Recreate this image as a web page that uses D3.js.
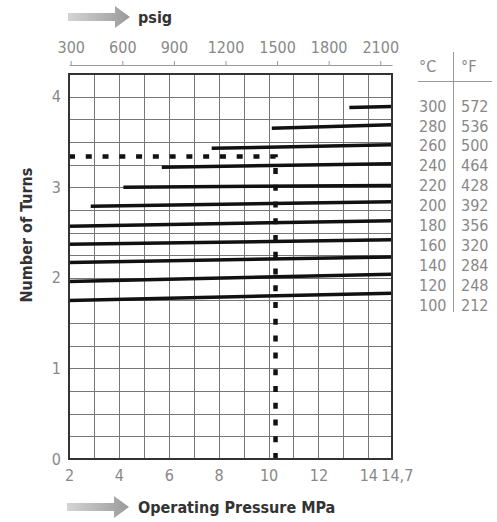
<!DOCTYPE html>
<html>
<head>
<meta charset="utf-8">
<script src="https://cdn.jsdelivr.net/npm/d3@7"></script>
<style>
    body { margin: 0; background: #fff; }
    svg { display: block; }
    .tick-label { font-family: "Liberation Sans Narrow", "DejaVu Sans", sans-serif; font-stretch: condensed; font-size: 16px; fill: #888; }
    .title { font-family: "Liberation Sans Narrow", "DejaVu Sans", sans-serif; font-stretch: condensed; font-size: 16px; font-weight: bold; fill: #333; }
</style>
</head>
<body>
<div id="chart"></div>
<script>
(function () {
    "use strict";

    // temperature curves, bottom to top
    const tempC = [100, 120, 140, 160, 180, 200, 220, 240, 260, 280, 300];
    const tempF = [212, 248, 284, 320, 356, 392, 428, 464, 500, 536, 572];
    const startMPa = [2, 2, 2, 2, 2, 2.87, 4.18, 5.72, 7.72, 10.13, 13.24];
    const startTurns = [1.75, 1.96, 2.17, 2.37, 2.57, 2.79, 3.00, 3.22, 3.43, 3.65, 3.88];
    const endTurns = [1.83, 2.04, 2.23, 2.42, 2.63, 2.84, 3.02, 3.26, 3.47, 3.69, 3.89];

    // tick labels
    const mpaTicks = [2, 4, 6, 8, 10, 12, 14];
    const mpaEnd = 14.7;
    const psigTicks = [300, 600, 900, 1200, 1500, 1800, 2100];
    const turnTicks = [0, 1, 2, 3, 4];

    // reading example (dashed)
    const exampleMPa = 10.28;
    const exampleTurns = 3.34;

    const PSIG_PER_MPA = 145.038;
    const width = 497;
    const height = 522;

    const xScale = d3.scaleLinear().domain([2, 14.95]).range([69, 392]);
    const yScale = d3.scaleLinear().domain([0, 4.25]).range([459, 74]);
    const psigScale = d3.scaleLinear()
        .domain(xScale.domain().map(d => d * PSIG_PER_MPA))
        .range(xScale.range());

    const svg = d3.select("#chart").append("svg")
        .attr("width", width)
        .attr("height", height);

    const defs = svg.append("defs");
    const grad = defs.append("linearGradient").attr("id", "arrow-grad");
    grad.append("stop").attr("offset", "0%").attr("stop-color", "#d4d4d4");
    grad.append("stop").attr("offset", "100%").attr("stop-color", "#9a9a9a");

    const [x0, x1] = xScale.range();
    const [yBottom, yTop] = yScale.range();

    // grid
    const grid = svg.append("g").attr("class", "grid")
        .attr("stroke", "#777")
        .attr("stroke-width", 1);

    grid.selectAll("line.v")
        .data(d3.range(3, 15))
        .join("line")
        .attr("class", "v")
        .attr("x1", d => Math.round(xScale(d)) + 0.5)
        .attr("x2", d => Math.round(xScale(d)) + 0.5)
        .attr("y1", yTop)
        .attr("y2", yBottom);

    grid.selectAll("line.h")
        .data(d3.range(0.25, 4.25, 0.25))
        .join("line")
        .attr("class", "h")
        .attr("x1", x0)
        .attr("x2", x1)
        .attr("y1", d => Math.round(yScale(d)) + 0.5)
        .attr("y2", d => Math.round(yScale(d)) + 0.5);

    // curves
    const curves = tempC.map((c, i) => ({
        c,
        f: tempF[i],
        points: [[startMPa[i], startTurns[i]], [xScale.domain()[1], endTurns[i]]]
    }));

    const line = d3.line()
        .x(d => xScale(d[0]))
        .y(d => yScale(d[1]));

    svg.append("g").attr("class", "curves")
        .selectAll("path")
        .data(curves)
        .join("path")
        .attr("d", d => line(d.points))
        .attr("fill", "none")
        .attr("stroke", "#111")
        .attr("stroke-width", 3.5);

    // dashed reading example, dashes fitted so the last one lands on the axis
    const dashed = svg.append("path")
        .attr("d", line([[2, exampleTurns], [exampleMPa, exampleTurns], [exampleMPa, 0]]))
        .attr("fill", "none")
        .attr("stroke", "#111")
        .attr("stroke-width", 4.5);
    const dashLen = 6;
    const total = dashed.node().getTotalLength();
    const count = Math.round((total - dashLen) / 17);
    dashed.attr("stroke-dasharray", `${dashLen} ${(total - dashLen) / count - dashLen}`);

    // border
    svg.append("rect")
        .attr("x", x0)
        .attr("y", yTop)
        .attr("width", x1 - x0)
        .attr("height", yBottom - yTop)
        .attr("fill", "none")
        .attr("stroke", "#333")
        .attr("stroke-width", 2);

    // axes
    const bottomAxis = svg.append("g")
        .attr("transform", `translate(0,${yBottom})`)
        .call(d3.axisBottom(xScale)
            .tickValues(mpaTicks.concat([mpaEnd]))
            .tickFormat(d => d === mpaEnd ? "14,7" : d)
            .tickSize(0)
            .tickPadding(11));
    bottomAxis.select(".domain").remove();
    bottomAxis.selectAll("text")
        .attr("class", "tick-label")
        .attr("dx", d => d === mpaEnd ? 11 : 0);

    const leftAxis = svg.append("g")
        .attr("transform", `translate(${x0},0)`)
        .call(d3.axisLeft(yScale)
            .tickValues(turnTicks)
            .tickFormat(d3.format("d"))
            .tickSize(0)
            .tickPadding(8));
    leftAxis.select(".domain").remove();
    leftAxis.selectAll("text").attr("class", "tick-label");

    const topAxis = svg.append("g")
        .attr("transform", "translate(0,65)")
        .call(d3.axisTop(psigScale)
            .tickValues(psigTicks)
            .tickFormat(d3.format("d"))
            .tickSizeInner(4)
            .tickSizeOuter(0)
            .tickPadding(8));
    topAxis.select(".domain").attr("stroke", "#999");
    topAxis.selectAll(".tick line").attr("stroke", "#999");
    topAxis.selectAll("text").attr("class", "tick-label");

    // titles with arrows
    function arrow(x, y) {
        svg.append("path")
            .attr("d", `M${x},${y - 4}H${x + 47}V${y - 11}L${x + 62},${y}L${x + 47},${y + 11}V${y + 4}H${x}Z`)
            .attr("fill", "url(#arrow-grad)");
    }

    arrow(68, 17);
    svg.append("text")
        .attr("class", "title")
        .attr("x", 138)
        .attr("y", 23)
        .text("psig");

    arrow(67, 507);
    svg.append("text")
        .attr("class", "title")
        .attr("x", 138)
        .attr("y", 513)
        .text("Operating Pressure MPa");

    svg.append("text")
        .attr("class", "title")
        .attr("transform", "translate(32,235) rotate(-90)")
        .attr("text-anchor", "middle")
        .text("Number of Turns");

    // temperature table
    const rowScale = d3.scalePoint()
        .domain(tempC.slice().reverse())
        .range([106, 305]);

    const table = svg.append("g").attr("class", "table");

    table.append("line")
        .attr("x1", 418).attr("x2", 492)
        .attr("y1", 81.5).attr("y2", 81.5)
        .attr("stroke", "#999");
    table.append("line")
        .attr("x1", 453.5).attr("x2", 453.5)
        .attr("y1", 52).attr("y2", 312)
        .attr("stroke", "#999");

    table.append("text").attr("class", "tick-label")
        .attr("x", 419).attr("y", 66).attr("dy", "0.35em")
        .text("°C");
    table.append("text").attr("class", "tick-label")
        .attr("x", 461).attr("y", 66).attr("dy", "0.35em")
        .text("°F");

    table.selectAll("text.c")
        .data(curves)
        .join("text")
        .attr("class", "tick-label c")
        .attr("x", 419)
        .attr("y", d => rowScale(d.c))
        .attr("dy", "0.35em")
        .text(d => d.c);

    table.selectAll("text.f")
        .data(curves)
        .join("text")
        .attr("class", "tick-label f")
        .attr("x", 461)
        .attr("y", d => rowScale(d.c))
        .attr("dy", "0.35em")
        .text(d => d.f);
}());
</script>
</body>
</html>
